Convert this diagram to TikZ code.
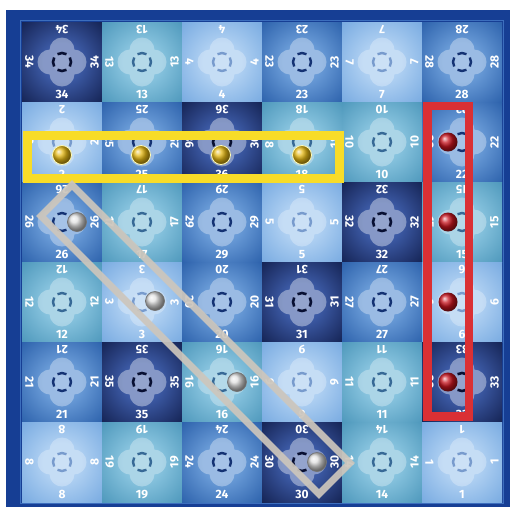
\documentclass[tikz,border=0pt]{standalone}
\usepackage{fontspec}
\newfontfamily\numfont{Fira Sans}
\definecolor{frameblue}{RGB}{22,62,148}
\definecolor{framelight}{RGB}{60,110,190}
\definecolor{Lb}{RGB}{105,160,220}
\definecolor{Lc}{RGB}{175,208,242}
\definecolor{Tb}{RGB}{62,140,178}
\definecolor{Tc}{RGB}{135,195,222}
\definecolor{Mb}{RGB}{28,82,160}
\definecolor{Mc}{RGB}{105,155,215}
\definecolor{Db}{RGB}{10,20,62}
\definecolor{Dc}{RGB}{60,90,165}
\definecolor{goldball}{RGB}{230,185,20}
\definecolor{redball}{RGB}{200,20,30}
\definecolor{yellowbar}{RGB}{248,220,40}
\definecolor{redbar}{RGB}{218,48,52}
\definecolor{greybar}{RGB}{205,198,188}
\colorlet{tb}{Db}
\colorlet{tc}{Dc}
\pgfdeclareradialshading[tb,tc]{tileglow}{\pgfpoint{0bp}{0bp}}{color(0bp)=(tc); color(12bp)=(tc); color(42bp)=(tb); color(100bp)=(tb)}
\tikzset{
  num/.style={font=\numfont\bfseries\fontsize{12}{12}\selectfont, text=white, inner sep=0pt},
  Lflower/.style={fill=white, fill opacity=0.28},
  Tflower/.style={fill=white, fill opacity=0.30},
  Mflower/.style={fill=white, fill opacity=0.33},
  Dflower/.style={fill=white, fill opacity=0.38},
  Lmark/.style={draw={rgb,255:red,120;green,155;blue,205}, line width=2.4pt},
  Tmark/.style={draw={rgb,255:red,55;green,105;blue,150}, line width=2.4pt},
  Mmark/.style={draw={rgb,255:red,20;green,50;blue,115}, line width=2.4pt},
  Dmark/.style={draw={rgb,255:red,8;green,15;blue,50}, line width=2.6pt},
}
\begin{document}
\begin{tikzpicture}[x=1pt,y=-1pt]
\useasboundingbox (0,0) rectangle (510,507);
\fill[white] (0,0) rectangle (510,507);
\fill[frameblue] (6,10) rectangle (510,507);
\draw[framelight, line width=1.2pt] (20.5,20.5) rectangle (503.5,503.5);
\foreach \n/\s [count=\k from 0] in {34/D,13/T,4/L,23/M,7/L,28/M,
  2/L,25/M,36/D,18/T,10/T,22/M,
  26/M,17/T,29/M,5/L,32/D,15/T,
  12/T,3/L,20/M,31/D,27/M,6/L,
  21/M,35/D,16/T,9/L,11/T,33/D,
  8/L,19/T,24/M,30/D,14/T,1/L} {
  \pgfmathtruncatemacro\col{mod(\k,6)}
  \pgfmathtruncatemacro\row{div(\k,6)}
  \pgfmathsetmacro\L{22+80*\col}
  \pgfmathsetmacro\T{22+80*\row}
  \pgfmathsetmacro\cx{\L+40}
  \pgfmathsetmacro\cy{\T+40}
  \colorlet{tb}{\s b}
  \colorlet{tc}{\s c}
  \shade[shading=tileglow] (\L,\T) rectangle ++(80,80);
  \fill[\s flower] (\cx-12,\cy) circle (12.5) (\cx+12,\cy) circle (12.5)
       (\cx,\cy-12) circle (12.5) (\cx,\cy+12) circle (12.5);
  \fill[white, fill opacity=0.12] (\cx,\cy) circle (10);
  \foreach \a in {0,90,180,270} {
    \draw[\s mark] (\cx,\cy) ++(\a-30:9) arc[start angle=\a-30, end angle=\a+30, radius=9];
  }
  \node[num, rotate=180] (n\k t) at (\cx,\T+7.5) {\n};
  \node[num] (n\k b) at (\cx,\T+72.5) {\n};
  \node[num, rotate=-90] (n\k l) at (\L+7.5,\cy) {\n};
  \node[num, rotate=90] (n\k r) at (\L+72.5,\cy) {\n};
}
% yellow frame and balls
\draw[yellowbar, line width=9pt] (27,135.5) rectangle (339,178);
\foreach \x in {62,141,221,302} {
  \shade[ball color=goldball] (\x,155) circle (9.5);
  \draw[white!70!yellow, line width=0.8pt] (\x,155) circle (9.5);
}
% red frame and balls
\draw[redbar, line width=8.5pt] (427.5,106) rectangle (469,416.5);
\foreach \y in {142,222,302,382} {
  \shade[ball color=redball] (448,\y) circle (9.5);
}
% grey diagonal frame and balls
\draw[greybar, line width=7pt, opacity=0.92, line join=miter] (72,185) -- (350,463) -- (319,494) -- (41,216) -- cycle;
\foreach \x/\y in {77/222,155/301,237/382,317/462} {
  \shade[ball color=gray!25] (\x,\y) circle (9.5);
  \draw[black!55, line width=0.7pt] (\x,\y) circle (9.5);
}
\end{tikzpicture}
\end{document}
